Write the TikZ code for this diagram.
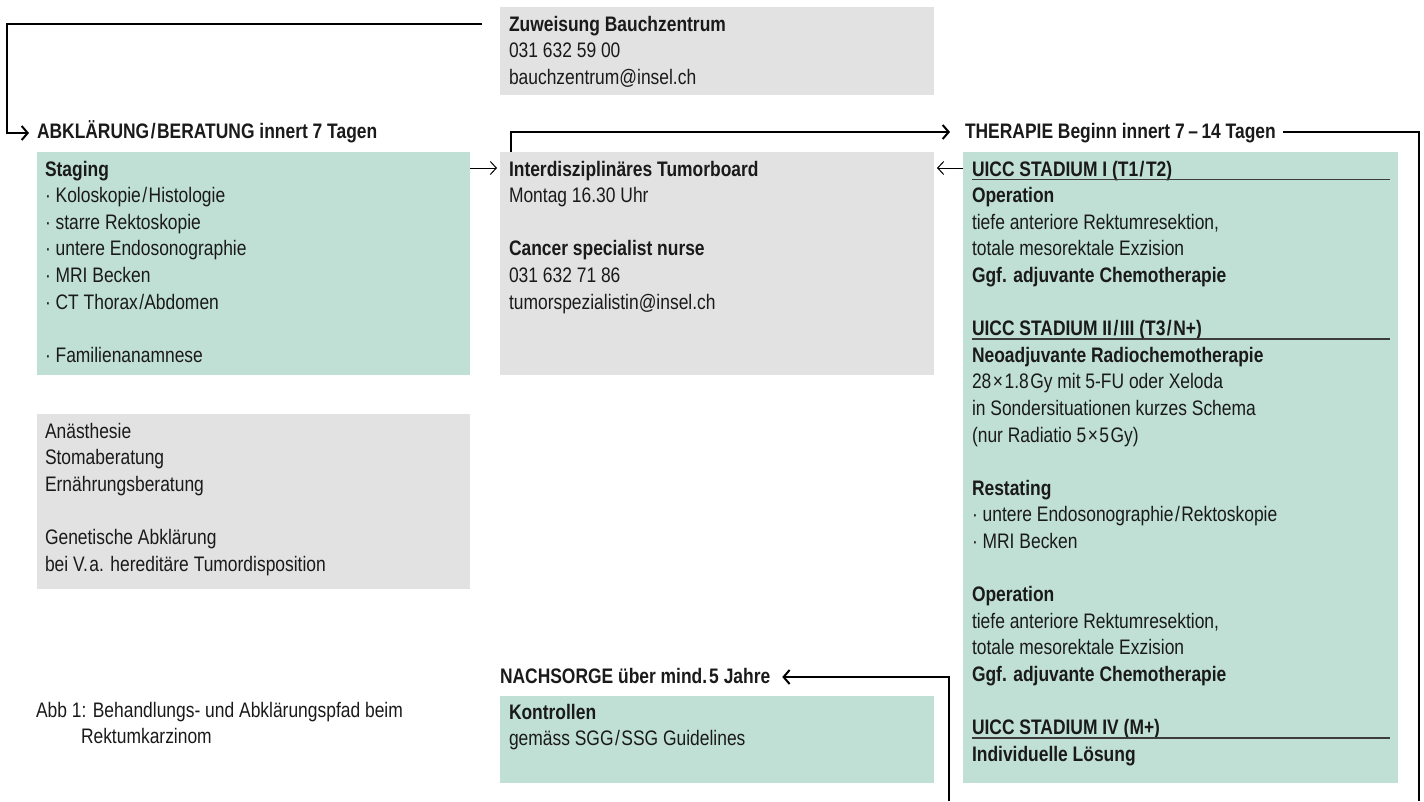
\documentclass[tikz,border=0pt]{standalone}
\usepackage{fontspec}
\setmainfont{Liberation Sans}[FakeStretch=0.83]
\usetikzlibrary{arrows.meta,calc}
\definecolor{boxgreen}{RGB}{192,224,214}
\definecolor{boxgray}{RGB}{226,226,226}
\definecolor{ink}{RGB}{26,26,26}
\newcommand{\fs}{\rule{0pt}{18pt}}
\newcommand{\slsh}{\kern1.5pt/\kern1.5pt}
\tikzset{
  box/.style={draw=none, inner sep=0pt, outer sep=0pt, anchor=north west},
  greenbox/.style={box, fill=boxgreen},
  graybox/.style={box, fill=boxgray},
  txt/.style={inner sep=0pt, outer sep=0pt, anchor=north west, align=left,
    font=\fontsize{21pt}{26.6pt}\selectfont, text=ink},
  hdr/.style={inner sep=0pt, outer sep=0pt, anchor=base west, text=ink,
    font=\fontsize{21pt}{26.6pt}\selectfont\bfseries},
  conn/.style={line width=2pt, draw=black, -{Straight Barb[length=6pt,width=14pt]}},
  connline/.style={line width=2pt, draw=black},
  fine/.style={line width=1pt, draw=black, -{Straight Barb[length=6pt,width=13pt]}},
  uline/.style={line width=1.4pt, draw=ink!85},
}
\begin{document}
\begin{tikzpicture}[x=1pt, y=-1pt]
\useasboundingbox (0,0) rectangle (1424,801);

% boxes
\node[graybox, minimum width=434pt, minimum height=88pt] (zuw) at (500,7) {};
\node[greenbox, minimum width=433pt, minimum height=223pt] (stag) at (37,152) {};
\node[graybox, minimum width=434pt, minimum height=223pt] (tb) at (500,152) {};
\node[greenbox, minimum width=435pt, minimum height=631pt] (th) at (963,152) {};
\node[graybox, minimum width=433pt, minimum height=175pt] (sup) at (37,414) {};
\node[greenbox, minimum width=434pt, minimum height=87pt] (nach) at (500,696) {};

% texts
\node[txt] (zuwt) at (509,13) {\fs\textbf{Zuweisung Bauchzentrum}\\031 632 59 00\\bauchzentrum@insel.ch};

\node[hdr] (hA) at (37,138) {ABKLÄRUNG\slsh BERATUNG innert 7 Tagen};
\node[hdr] (hT) at (965,138) {THERAPIE Beginn innert 7\,–\,14 Tagen};
\node[hdr] (hN) at (500,683) {NACHSORGE über mind.\kern2pt 5 Jahre};

\node[txt] (stagt) at (45,158) {\fs\textbf{Staging}\\
· Koloskopie\slsh Histologie\\
· starre Rektoskopie\\
· untere Endosonographie\\
· MRI Becken\\
· CT Thorax\kern1.5pt/Abdomen\\[26.6pt]
· Familienanamnese};

\node[txt] (tbt) at (509,158) {\fs\textbf{Interdisziplinäres Tumorboard}\\
Montag 16.30 Uhr\\[26.6pt]
\textbf{Cancer specialist nurse}\\
031 632 71 86\\
tumorspezialistin@insel.ch};

\node[txt] (tht) at (972,158) {\fs\textbf{UICC STADIUM I (T1\slsh T2)}\\
\textbf{Operation}\\
tiefe anteriore Rektumresektion,\\
totale mesorektale Exzision\\
\textbf{Ggf. adjuvante Chemotherapie}\\[26.6pt]
\textbf{UICC STADIUM II\slsh III (T3\slsh N+)}\\
\textbf{Neoadjuvante Radiochemotherapie}\\
28\kern1.5pt×\kern1.5pt1.8\kern1.5pt Gy mit 5-FU oder Xeloda\\
in Sondersituationen kurzes Schema\\
(nur Radiatio 5\kern1.5pt×\kern1.5pt5\kern1.5pt Gy)\\[26.6pt]
\textbf{Restating}\\
· untere Endosonographie\slsh Rektoskopie\\
· MRI Becken\\[26.6pt]
\textbf{Operation}\\
tiefe anteriore Rektumresektion,\\
totale mesorektale Exzision\\
\textbf{Ggf. adjuvante Chemotherapie}\\[26.6pt]
\textbf{UICC STADIUM IV (M+)}\\
\textbf{Individuelle Lösung}};

\draw[uline] (972,179.5) -- (1390,179.5);
\draw[uline] (972,339.1) -- (1390,339.1);
\draw[uline] (972,738.1) -- (1390,738.1);

\node[txt] (supt) at (45,420) {\fs Anästhesie\\
Stomaberatung\\
Ernährungsberatung\\[26.6pt]
Genetische Abklärung\\
bei V.\kern1.5pt a. hereditäre Tumordisposition};

\node[txt] (nacht) at (509,701) {\fs\textbf{Kontrollen}\\
gemäss SGG\slsh SSG Guidelines};

\node[txt] (cap) at (36,699) {\fs Abb 1: Behandlungs- und Abklärungspfad beim\\
\hspace*{45pt}Rektumkarzinom};

% connectors
\coordinate (c1) at (7,24);
\draw[conn] ($(zuw.north west)+(-18,17)$) -- (c1) |- ($(hA.base west)+(-8,-5)$);
\draw[conn] ($(tb.north west)+(11,0)$) |- ($(hT.base west)+(-15,-6)$);
\coordinate (rb) at (1419,801);
\draw[connline] ($(hT.base east)+(7,-6)$) -| (rb);
\coordinate (nb) at (949,801);
\draw[conn] (nb) |- ($(hN.base east)+(12,-6)$);

\coordinate (ya) at (0,168);
\draw[fine] (stag.east |- ya) -- ($(tb.west |- ya)+(-3,0)$);
\draw[fine] (th.west |- ya) -- ($(tb.east |- ya)+(3,0)$);
\end{tikzpicture}
\end{document}
